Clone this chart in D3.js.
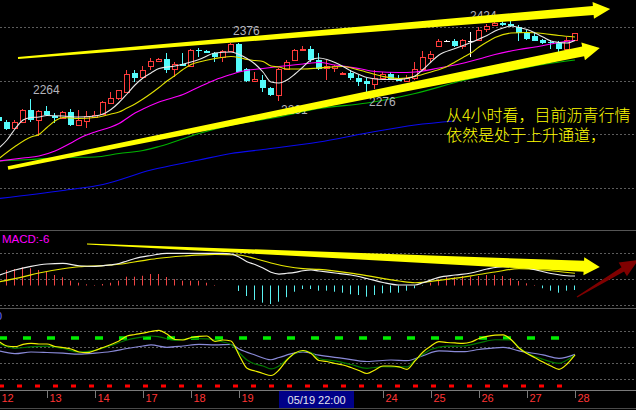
<!DOCTYPE html>
<html>
<head>
<meta charset="utf-8">
<script src="https://cdn.jsdelivr.net/npm/d3@7/dist/d3.min.js"></script>
<style>
html,body{margin:0;padding:0;background:#000;overflow:hidden;}
svg{display:block;}
</style>
</head>
<body>
<svg id="chart" width="636" height="410"></svg>
<script>
// ================= DATA =================
// day ticks visible on the time axis (20 and 21 are hidden by the crosshair date box)
const dayLabels = ["12","13","14","17","18","19","24","25","26","27","28"];
const dayTickIndex = [0,6,12,18,24,30,48,54,60,66,72];
const crossLabel = "05/19 22:00";
const crossIndex = 39.7;

// 4-hour candles (OHLC)
const candleOpen  = [2228,2217,2207,2217,2243,2222,2240,2230,2227,2239, 2213,2220,2229,2235,2257,2265,2279,2315,2309,2330, 2340,2344,2324,2335,2329,2362,2360,2357,2347,2359, 2374,2325,2300,2302,2287,2272,2325,2342,2361,2364, 2342,2326,2327,2313,2315,2307,2300,2295,2307,2314, 2307,2300,2307,2324,2345,2371,2380,2381,2371,2381, 2383,2404,2412,2417,2415,2407,2397,2391,2382,2377, 2375,2363,2382];
const candleHigh  = [2232,2222,2221,2245,2264,2242,2250,2236,2240,2244, 2242,2240,2240,2260,2279,2283,2322,2322,2329,2345, 2345,2356,2339,2356,2364,2366,2362,2358,2362,2376, 2375,2326,2319,2312,2288,2326,2342,2365,2371,2371, 2356,2342,2332,2318,2322,2312,2306,2322,2319,2319, 2312,2312,2339,2359,2359,2385,2382,2385,2385,2399, 2407,2414,2419,2421,2424,2412,2402,2395,2384,2382, 2379,2389,2397];
const candleLow   = [2216,2202,2206,2216,2219,2189,2230,2216,2226,2211, 2212,2207,2227,2232,2256,2262,2278,2297,2308,2322, 2339,2316,2309,2329,2328,2349,2356,2339,2339,2358, 2318,2298,2299,2279,2271,2261,2324,2341,2360,2339, 2322,2303,2319,2312,2302,2291,2276,2285,2302,2303, 2299,2298,2302,2323,2339,2369,2378,2369,2363,2349, 2379,2399,2411,2409,2407,2381,2382,2379,2374,2365, 2357,2361,2381];
const candleClose = [2220,2205,2217,2243,2222,2240,2232,2227,2238,2212, 2222,2230,2233,2258,2265,2282,2313,2307,2323,2340, 2343,2322,2335,2330,2362,2359,2357,2347,2359,2374, 2319,2299,2304,2287,2272,2325,2339,2362,2364,2342, 2324,2329,2330,2317,2307,2297,2295,2307,2313,2304, 2300,2307,2325,2347,2354,2381,2380,2371,2382,2381, 2403,2410,2417,2412,2410,2395,2384,2381,2375,2375, 2363,2383,2395];

// moving averages, read as [candle index, price]
const ma5  = [[0,2166],[1,2182],[2,2204],[3,2222],[4,2227],[5,2228],[6,2231],[8,2230],[10,2228],[12,2230],[13,2234],[14,2243],[15,2257],[16,2274],[17,2292],[18,2306],[19,2316],[20,2325],[22,2330],[24,2338],[25,2343],[27,2356],[29,2358],[30,2353],[31,2345],[32,2334],[33,2318],[34,2298],[35,2296],[36,2302],[37,2314],[38,2328],[39,2342],[40,2346],[41,2343],[42,2337],[43,2329],[44,2320],[45,2313],[46,2307],[48,2303],[50,2303],[51,2305],[52,2310],[53,2323],[54,2338],[55,2352],[57,2365],[59,2377],[60,2384],[61,2391],[62,2400],[63,2406],[64,2410],[65,2407],[66,2403],[67,2396],[68,2388],[69,2380],[70,2377],[71,2376],[72,2381]];
const ma10 = [[0,2145],[2,2169],[4,2188],[5,2193],[6,2207],[7,2220],[8,2227],[10,2225],[12,2227],[14,2234],[15,2238],[16,2246],[17,2254],[18,2264],[19,2275],[20,2287],[21,2300],[22,2311],[23,2323],[24,2333],[25,2338],[27,2345],[29,2349],[30,2347],[31,2343],[32,2341],[33,2339],[34,2330],[35,2328],[36,2324],[38,2324],[40,2326],[43,2329],[45,2322],[48,2309],[50,2305],[52,2309],[54,2318],[56,2329],[57,2338],[58,2347],[59,2356],[60,2368],[61,2378],[62,2387],[64,2396],[66,2397],[68,2395],[70,2391],[72,2388]];
const ma20 = [[0,2140],[3,2146],[5,2150],[7,2160],[9,2176],[10,2185],[12,2198],[14,2208],[15,2215],[17,2236],[18,2244],[20,2258],[23,2273],[25,2288],[27,2302],[29,2313],[30,2318],[33,2325],[35,2329],[38,2334],[40,2337],[42,2332],[45,2325],[47,2319],[50,2317],[52,2318],[55,2326],[57,2332],[60,2344],[62,2353],[65,2363],[67,2368],[70,2377],[72,2381]];
const ma40 = [[0,2140],[4,2143],[8,2147],[12,2148],[15,2155],[18,2161],[20,2169],[25,2195],[30,2215],[35,2228],[40,2245],[46,2256],[52,2275],[58,2301],[64,2321],[68,2333],[72,2342]];
const ma120 = [[0,2065],[8,2081],[13,2093],[19,2122],[25,2142],[29,2155],[33,2163],[40,2178],[46,2196],[52,2212],[57,2220]];

// high / low labels
const priceLabels = [
  {i:4,  v:2264, kind:"high"},
  {i:29, v:2376, kind:"high"},
  {i:35, v:2261, kind:"low"},
  {i:46, v:2276, kind:"low"},
  {i:64, v:2424, kind:"peak"}
];
const priceGrid = [2408, 2300, 2194, 2086];

// MACD
const macdHist = [19,20.7,22,24.3,23,20.7,18.4,14,10.9,6.4, 3.7,1.6,0.7,2,3.7,6.4,11.7,11.7,13,15.3, 15.3,11.3,8.4,6.4,6.3,6.3,3.7,0.7,0,0, -7.3,-14,-19.3,-22.9,-24.7,-21.6,-15.6,-8.3,-4.7,-4.7, -6.9,-6.9,-8.3,-9.6,-11.7,-12.7,-14.9,-12.7,-10.4,-9.6, -9.6,-6.9,-3.7,-0.5,3.7,8.3,10.9,10.9,12.7,11.7, 12.7,14,14,12.7,9.6,6,2.9,0.7,-3.7,-6.9, -9.6,-6.9,-6];
const macdDif = [[0,13.7],[2,20.7],[4,25.6],[6,28.7],[8,29.5],[10,26.3],[12,25.6],[14,27.6],[15,29.3],[16,32.7],[17,36],[19,40],[21,42.9],[25,42.9],[28,42.9],[29,42],[30,38],[31,31.7],[32,28],[33,23.3],[34,17.6],[35,15.3],[36,16.3],[37,17.6],[38,19.7],[39,20.7],[40,19.3],[42,16.7],[44,14],[46,9.3],[48,4],[50,0.7],[52,0.7],[53,3.7],[55,10.9],[57,14],[59,16.7],[61,22],[63,25],[65,24.7],[67,21],[69,16],[71,13],[72,12.7]];
const macdDea = [[0,4.9],[3,11.6],[5,16.7],[8,22.3],[10,25],[13,26.4],[15,28.3],[18,33.2],[20,36.3],[23,39.3],[27,41.6],[30,40.7],[32,36],[34,30],[36,25.3],[38,22.5],[40,21.5],[45,14.9],[50,6],[52,3.7],[55,6.9],[59,12.9],[62,18],[65,22.4],[68,20.7],[72,16.3]];
const macdGrid = [43.3, 8.7, -26];

// lower oscillator
const oscYellow = [75.6,70,69.1,72.1,73.4,72.5,72.5,69.4,68.1,66.3, 62.5,61.6,64.4,68.1,71.9,76.3,82.5,84.4,86,88.1, 89.6,85,78.1,77.5,80.6,82.1,82.5,75.6,77.5,76.3, 58.8,42.1,38.8,35.6,33.1,40,52.5,61.3,64.4,60.6, 51.9,50.6,48.1,46.3,43.1,39.4,35.6,40,45,45, 43.8,40.9,51.3,62.5,70,75.4,74.4,73.8,73.4,75, 79.4,82.1,83.5,83.8,78.1,67.5,60.6,55.3,50,45, 40.9,47.5,58.8];
const oscGreen = [[0,73.1],[2,67.1],[4,69],[6,69.8],[8,66.9],[10,62.5],[12,64.6],[14,70.6],[16,77.5],[18,81.3],[19,82.5],[20,81.5],[22,77.1],[24,79.4],[26,78.8],[28,75],[29,71.9],[30,61.9],[31,52.5],[32,47.5],[33,45],[34,41.3],[35,45],[36,53.4],[37,60.6],[38,63.8],[39,61.9],[40,54.4],[42,51.3],[44,46.9],[46,42.1],[48,44.1],[50,43.8],[51,43.8],[52,52.5],[53,59.4],[54,65.6],[56,69.8],[58,70],[60,73.8],[62,77.8],[64,77.5],[65,68.1],[66,61.3],[68,53.4],[70,48.4],[71,52.5],[72,58.8]];
const oscSlow = [[0,63.8],[2,60.4],[4,62.5],[6,61.9],[8,61],[10,59.8],[12,61],[14,63.1],[16,66.9],[18,70],[19,71.3],[21,68.4],[23,70],[25,72.1],[27,71.3],[29,71.9],[30,66.3],[32,58.8],[34,52.8],[35,55.6],[37,61.3],[38,62.5],[40,58.5],[43,54.6],[46,50.6],[49,52.5],[51,51.6],[53,57.9],[55,63.8],[58,62.9],[60,65.6],[63,68.4],[65,64],[68,58.8],[70,54.6],[72,59.6]];
const oscGrid = [88.75, 68.75, 48.75, 28.75];
const oscHigh = 80, oscLow = 20;

const noteLines = ["从4小时看，目前沥青行情", "依然是处于上升通道，"];

// ================= DRAW =================
const W = 636, H = 410;
const svg = d3.select("#chart");
svg.append("rect").attr("width", W).attr("height", H).attr("fill", "#000");

const x  = d3.scaleLinear().domain([0, 72]).range([-1, 575]);
const yP = d3.scaleLinear().domain([2006, 2462]).range([228, 0]);
const yM = d3.scaleLinear().domain([-30, 74]).range([308, 230]);
const yI = d3.scaleLinear().domain([15, 117.5]).range([390, 308]);
const snap = v => Math.round(v) + 0.5;
const FONT = "'Liberation Sans', Arial, sans-serif";

// grids
function hgrid(vals, sc) {
  svg.append("g").selectAll("line").data(vals).join("line")
    .attr("x1", 0).attr("x2", W)
    .attr("y1", d => snap(sc(d))).attr("y2", d => snap(sc(d)))
    .attr("stroke", "#5c5c5c").attr("stroke-dasharray", "2,2");
}
hgrid(priceGrid, yP);
hgrid(macdGrid, yM);
hgrid(oscGrid, yI);

// panel separators
[yM.range()[1], yI.range()[1]].forEach(v => {
  svg.append("line").attr("x1", 0).attr("x2", W).attr("y1", snap(v)).attr("y2", snap(v))
    .attr("stroke", "#555").attr("stroke-width", 1);
});

// ---- candles ----
const candles = candleOpen.map((o, i) => ({i, o, h: candleHigh[i], l: candleLow[i], c: candleClose[i]}));
const gC = svg.append("g");
candles.forEach(d => {
  const cx = Math.round(x(d.i));
  const wx = cx - 0.5;
  const up = d.c > d.o, flat = d.c === d.o;
  const col = flat ? "#ffffff" : (up ? "#ff3c3c" : "#54fcfc");
  const top = Math.round(yP(Math.max(d.o, d.c)));
  const bot = Math.round(yP(Math.min(d.o, d.c)));
  const yh = Math.round(yP(d.h)), yl = Math.round(yP(d.l));
  if (flat) {
    gC.append("line").attr("x1", wx).attr("x2", wx).attr("y1", yh).attr("y2", yl).attr("stroke", col);
    gC.append("line").attr("x1", cx - 3).attr("x2", cx + 3).attr("y1", top + 0.5).attr("y2", top + 0.5).attr("stroke", col);
  } else if (up) {
    gC.append("line").attr("x1", wx).attr("x2", wx).attr("y1", yh).attr("y2", top).attr("stroke", col);
    gC.append("line").attr("x1", wx).attr("x2", wx).attr("y1", bot).attr("y2", yl).attr("stroke", col);
    gC.append("rect").attr("x", cx - 2.5).attr("y", top + 0.5).attr("width", 5).attr("height", Math.max(bot - top, 1))
      .attr("fill", "#000").attr("stroke", col);
  } else {
    gC.append("line").attr("x1", wx).attr("x2", wx).attr("y1", yh).attr("y2", yl).attr("stroke", col);
    gC.append("rect").attr("x", cx - 3).attr("y", top).attr("width", 6).attr("height", Math.max(bot - top, 1))
      .attr("fill", col);
  }
});

// ---- moving averages ----
const lineP = d3.line().x(d => x(d[0])).y(d => yP(d[1])).curve(d3.curveMonotoneX);
[[ma120, "#0a0aee"], [ma40, "#00b400"], [ma20, "#ff00ff"], [ma10, "#e0e000"], [ma5, "#e8e8e8"]].forEach(([data, col]) => {
  svg.append("path").attr("d", lineP(data)).attr("fill", "none").attr("stroke", col).attr("stroke-width", 1.1);
});

// ---- high/low labels ----
priceLabels.forEach(p => {
  const px = Math.round(x(p.i));
  let tx, ty;
  if (p.kind === "high") { tx = px + 2; ty = yP(p.v) - (p.i === 29 ? 8 : 5); }
  else if (p.kind === "low") { tx = px + 2; ty = yP(p.v) + 13; }
  else { tx = px - 41; ty = yP(p.v) + 1; }
  svg.append("text").attr("x", tx).attr("y", ty).text(p.v)
    .attr("fill", "#b4b4bc").attr("font-size", 12).attr("font-family", FONT);
});

// ---- MACD ----
const gM = svg.append("g");
macdHist.forEach((v, i) => {
  if (v === 0) return;
  const wx = Math.round(x(i)) - 0.5;
  gM.append("line").attr("x1", wx).attr("x2", wx)
    .attr("y1", yM(0)).attr("y2", yM(v))
    .attr("stroke", v > 0 ? "#f24444" : "#5af2f2");
});
const lineM = d3.line().x(d => x(d[0])).y(d => yM(d[1])).curve(d3.curveMonotoneX);
svg.append("path").attr("d", lineM(macdDea)).attr("fill", "none").attr("stroke", "#e6e600").attr("stroke-width", 1.2);
svg.append("path").attr("d", lineM(macdDif)).attr("fill", "none").attr("stroke", "#f0f0f0").attr("stroke-width", 1.2);
svg.append("text").attr("x", 2).attr("y", 243).text("MACD:" + Math.round(macdHist[macdHist.length - 1]))
  .attr("fill", "#ff00ff").attr("font-size", 11.5).attr("font-family", FONT);

// ---- oscillator ----
svg.append("line").attr("x1", x(0)).attr("x2", 560).attr("y1", yI(oscHigh)).attr("y2", yI(oscHigh))
  .attr("stroke", "#00ee00").attr("stroke-width", 3.5).attr("stroke-dasharray", "8,16");
svg.append("line").attr("x1", x(0)).attr("x2", 563).attr("y1", yI(oscLow)).attr("y2", yI(oscLow))
  .attr("stroke", "#ff0000").attr("stroke-width", 3).attr("stroke-dasharray", "5,13");
const lineI = d3.line().x(d => x(d[0])).y(d => yI(d[1])).curve(d3.curveMonotoneX);
svg.append("path").attr("d", lineI(oscSlow)).attr("fill", "none").attr("stroke", "#8a8ad8").attr("stroke-width", 1.2);
svg.append("path").attr("d", lineI(oscGreen)).attr("fill", "none").attr("stroke", "#007800").attr("stroke-width", 1.2);
svg.append("path").attr("d", lineI(oscYellow.map((v, i) => [i, v]))).attr("fill", "none").attr("stroke", "#f0f000").attr("stroke-width", 1.2);
svg.append("text").attr("x", -4).attr("y", 320).text("0")
  .attr("fill", "#6a6aff").attr("font-size", 11).attr("font-family", FONT);

// ---- x axis ----
svg.append("line").attr("x1", 0).attr("x2", W).attr("y1", 390.5).attr("y2", 390.5).attr("stroke", "#7a7a7a");
svg.append("line").attr("x1", 0).attr("x2", W).attr("y1", 408.5).attr("y2", 408.5).attr("stroke", "#4a4a4a");
const xAxis = d3.axisBottom(x).tickValues(dayTickIndex).tickFormat((d, i) => dayLabels[i]).tickSize(8).tickSizeOuter(0);
const ax = svg.append("g").attr("transform", "translate(0,390)").call(xAxis)
  .attr("font-size", 11).attr("font-family", FONT);
ax.select(".domain").remove();
ax.selectAll(".tick line").attr("stroke", "#7a7a7a");
ax.selectAll(".tick text").attr("x", 2).attr("y", 4.5).attr("dy", "0.71em")
  .attr("text-anchor", "start").attr("fill", "#ff3434");

// crosshair date box
const cxBox = x(crossIndex);
svg.append("rect").attr("x", Math.round(cxBox - 37.5)).attr("y", 391).attr("width", 75).attr("height", 17).attr("fill", "#000088");
svg.append("text").attr("x", cxBox).attr("y", 403.5).attr("text-anchor", "middle").text(crossLabel)
  .attr("fill", "#e6e6f0").attr("font-size", 11).attr("font-family", FONT);

// ---- annotation text (one block, two lines) ----
const note = svg.append("text").attr("x", 446).attr("y", 121)
  .attr("fill", "#ffff00").attr("font-size", 16)
  .attr("font-family", "'Noto Sans CJK SC', sans-serif").attr("font-weight", 300);
noteLines.forEach((t, k) => {
  note.append("tspan").attr("x", 446).attr("dy", k === 0 ? 0 : 20).text(t);
});

// ---- hand-drawn arrows ----
function arrow(S, T, w0, w1, headLen, hw, color) {
  const dx = T[0] - S[0], dy = T[1] - S[1], len = Math.hypot(dx, dy);
  const ux = dx / len, uy = dy / len, nx = -uy, ny = ux;
  const B = [T[0] - ux * headLen, T[1] - uy * headLen];
  const pts = [
    [S[0] + nx * w0 / 2, S[1] + ny * w0 / 2],
    [B[0] + nx * w1 / 2, B[1] + ny * w1 / 2],
    [B[0] + nx * hw, B[1] + ny * hw],
    T,
    [B[0] - nx * hw, B[1] - ny * hw],
    [B[0] - nx * w1 / 2, B[1] - ny * w1 / 2],
    [S[0] - nx * w0 / 2, S[1] - ny * w0 / 2]
  ];
  svg.append("polygon").attr("points", pts.map(p => p.join(",")).join(" ")).attr("fill", color);
}
arrow([x(2.375), yP(2346)], [x(76.4), yP(2444)], 2, 9, 17, 8.5, "#ffff00");
arrow([x(1.125), yP(2126)], [x(75.1), yP(2366)], 3.5, 10, 17, 9, "#ffff00");
arrow([x(11), yM(55.3)], [x(75.1), yM(24.7)], 1, 11, 16, 9, "#ffff00");
arrow([x(72.25), yM(-15.3)], [x(79.9), yM(34)], 1.2, 5, 18, 8, "#7f0000");
</script>
</body>
</html>
